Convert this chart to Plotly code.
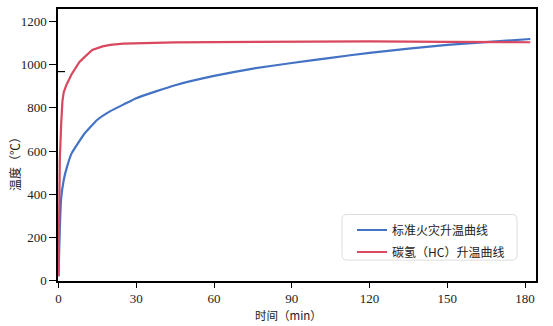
import plotly.graph_objects as go

# Standard fire curve (ISO 834) readings: time in min, temperature in °C
std_time = [0, 0.5, 1, 2, 3, 5, 10, 15, 20, 25, 30, 45, 60, 75, 90, 105, 120, 150, 182]
std_temp = [20, 240, 380, 465, 515, 588, 680, 745, 785, 815, 845, 905, 948, 982, 1008, 1032, 1055, 1092, 1119]

# Hydrocarbon (HC) fire curve readings
hc_time = [0, 0.5, 1, 1.5, 2, 3, 5, 8, 10, 13, 17, 20, 25, 30, 45, 60, 90, 120, 150, 182]
hc_temp = [20, 560, 720, 830, 872, 905, 955, 1012, 1035, 1068, 1085, 1092, 1098, 1100, 1103, 1105, 1108, 1108, 1106, 1104]

x_ticks = [0, 30, 60, 90, 120, 150, 180]
y_ticks = [0, 200, 400, 600, 800, 1000, 1200]

series_names = ["标准火灾升温曲线", "碳氢（HC）升温曲线"]
series_colors = ["#4472c4", "#d9485f"]

W, H = 553, 326
ML, MR, MT, MB = 58, 17, 7, 45
PW, PH = W - ML - MR, H - MT - MB


def px_x(p):
    return (p - ML) / PW


def px_y(p):
    return (H - MB - p) / PH


fig = go.Figure()
fig.add_trace(go.Scatter(x=std_time, y=std_temp, mode="lines", name=series_names[0],
                         line=dict(color=series_colors[0], width=2.2, shape="spline", smoothing=0.4),
                         legendgroup="a"))
fig.add_trace(go.Scatter(x=hc_time, y=hc_temp, mode="lines", name=series_names[1],
                         line=dict(color=series_colors[1], width=2.2), legendgroup="b"))

tick_font = dict(family="Liberation Serif", size=13, color="#222")
cjk = "Noto Sans CJK SC"

# rounded legend frame
bx0, bx1, by0, by1 = px_x(342), px_x(517), px_y(260), px_y(214)
rx, ry = 5 / PW, 5 / PH
frame = (f"M{bx0+rx},{by0} L{bx1-rx},{by0} Q{bx1},{by0} {bx1},{by0+ry} "
         f"L{bx1},{by1-ry} Q{bx1},{by1} {bx1-rx},{by1} "
         f"L{bx0+rx},{by1} Q{bx0},{by1} {bx0},{by1-ry} "
         f"L{bx0},{by0+ry} Q{bx0},{by0} {bx0+rx},{by0} Z")

fig.update_layout(
    width=W, height=H,
    margin=dict(l=ML, r=MR, t=MT, b=MB),
    paper_bgcolor="white", plot_bgcolor="white",
    showlegend=True,
    legend=dict(x=px_x(352), y=px_y(215), xanchor="left", yanchor="top",
                bgcolor="rgba(0,0,0,0)", borderwidth=0,
                font=dict(family=cjk, size=12, color="#222"),
                traceorder="grouped", tracegroupgap=3),
    xaxis=dict(range=[-0.2, 184.2], tickvals=x_ticks, showgrid=False, zeroline=False,
               showline=True, mirror=True, linecolor="black", linewidth=1.5,
               ticks="outside", ticklen=5, tickwidth=1.2, tickcolor="black",
               ticklabelstandoff=0, tickfont=tick_font),
    yaxis=dict(range=[-2, 1258], tickvals=y_ticks, showgrid=False, zeroline=False,
               showline=True, mirror=True, linecolor="black", linewidth=1.5,
               ticks="outside", ticklen=7, tickwidth=1.2, tickcolor="black",
               tickfont=tick_font),
    shapes=[
        dict(type="path", path=frame, xref="paper", yref="paper",
             line=dict(color="#dddddd", width=1), fillcolor="rgba(255,255,255,0.8)", layer="above"),
        dict(type="line", xref="paper", yref="y", x0=px_x(56.5), x1=px_x(65), y0=968, y1=968,
             line=dict(color="black", width=1.2)),
    ],
    annotations=[
        dict(text="温度（℃）", xref="paper", yref="paper", x=px_x(15), y=px_y(160),
             textangle=-90, showarrow=False, font=dict(family=cjk, size=12, color="#222"),
             xanchor="center", yanchor="middle"),
        dict(text="时间（min）", xref="paper", yref="paper", x=px_x(288), y=px_y(315),
             showarrow=False, font=dict(family=cjk, size=11.5, color="#222"),
             xanchor="center", yanchor="middle"),
    ],
)

fig.write_html("out.html")
